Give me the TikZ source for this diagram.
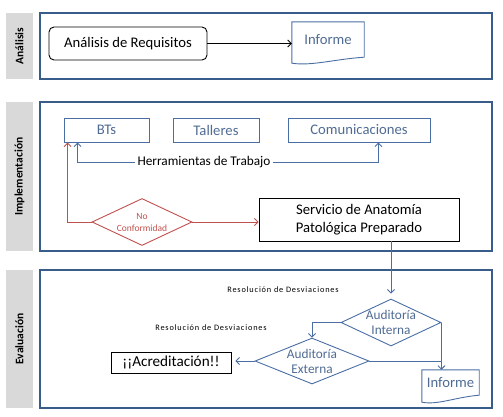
\documentclass[tikz,border=0pt]{standalone}
\usepackage{fontspec}
\setmainfont{Carlito}
\newfontfamily\spacedfont[LetterSpace=10]{Carlito}
\usetikzlibrary{shapes.geometric,arrows.meta}
\definecolor{frameC}{HTML}{385D8A}
\definecolor{lineC}{HTML}{4A6EA4}
\definecolor{txtC}{HTML}{4F6B93}
\definecolor{redC}{HTML}{C0504D}
\definecolor{grayC}{HTML}{D9D9D9}
\tikzset{
  band/.style={draw=frameC, line width=2pt, inner sep=0pt},
  lblbox/.style={fill=grayC, rotate=90, inner sep=0pt, font=\bfseries\fontsize{11.5}{13}\selectfont},
  bigfont/.style={font=\fontsize{14.67}{17.6}\selectfont},
  midfont/.style={font=\fontsize{13.3}{15}\selectfont},
  blubox/.style={draw=lineC, line width=0.9pt, text=txtC, inner sep=0pt, bigfont},
  blkbox/.style={draw=black, line width=0.9pt, inner sep=0pt, bigfont},
  docn/.style={inner sep=0pt, text=txtC, bigfont},
  docline/.style={draw=lineC, line width=0.9pt},
  dia/.style={diamond, draw=lineC, line width=0.9pt, inner sep=0pt},
  rdia/.style={diamond, draw=redC, line width=0.9pt, inner sep=0pt},
  barb/.style={-{Straight Barb[length=3.5pt,width=7pt]}},
  bline/.style={draw=lineC, line width=0.9pt},
  rline/.style={draw=redC, line width=0.9pt},
  kline/.style={draw=black, line width=0.8pt},
  smalltxt/.style={inner sep=0pt, font=\spacedfont\fontsize{8.3}{10}\selectfont},
}
\begin{document}
\begin{tikzpicture}[x=1pt,y=-1pt]
\useasboundingbox (0,0) rectangle (503,416);
% bands
\node[lblbox, minimum width=66pt, minimum height=27pt] (lA) at (19.5,46) {Análisis};
\node[band, minimum width=452pt, minimum height=66pt] (fA) at (266,46) {};
\node[lblbox, minimum width=149pt, minimum height=27pt] (lI) at (19.5,176.5) {Implementación};
\node[band, minimum width=452pt, minimum height=149pt] (fI) at (266,176.5) {};
\node[lblbox, minimum width=138pt, minimum height=27pt] (lE) at (19.5,339) {Evaluación};
\node[band, minimum width=452pt, minimum height=138pt] (fE) at (266,339) {};

% Analisis
\node[blkbox, rounded corners=5pt, minimum width=158pt, minimum height=33pt] (areq) at (128,43.5) {Análisis de Requisitos};
\node[docn, minimum width=72pt, minimum height=35pt] (inf1) at (328,39.5) {Informe};
\draw[docline] (inf1.south west) -- (inf1.north west) -- (inf1.north east) -- (inf1.south east)
  .. controls +(-30,2) and +(20,3) .. ([yshift=-6pt]inf1.south west) -- cycle;
\draw[kline, barb] (areq.east) -- (inf1.west |- areq.east);

% Implementacion
\node[blubox, minimum width=85pt, minimum height=24pt] (bts) at (106.5,130) {BTs};
\node[blubox, minimum width=86pt, minimum height=24pt] (tal) at (216,130) {Talleres};
\node[blubox, minimum width=142pt, minimum height=24pt] (com) at (359,130) {Comunicaciones};
\node[inner sep=2pt, midfont] (herr) at (204,162) {Herramientas de Trabajo};
\draw[bline, barb] (herr.west) -| ([xshift=14pt]bts.south west);
\draw[bline, barb] (herr.east) -| ([xshift=-52pt]com.south east);
\node[rdia, minimum width=100pt, minimum height=47pt,
  label={[text=redC, align=center, font=\fontsize{9.5}{12}\selectfont]center:No\\Conformidad}] (nc) at (142,222) {};
\node[blkbox, align=center, minimum width=200pt, minimum height=43pt] (srv) at (359,219.5) {Servicio de Anatomía\\Patológica Preparado};
\draw[rline, barb] (nc.west) -| ([xshift=4pt]bts.south west);
\draw[rline, barb] (nc.east) -- (nc.east -| srv.west);

% Evaluacion
\node[dia, minimum width=100pt, minimum height=47pt,
  label={[text=txtC, align=center, midfont]center:Auditoría\\Interna}] (ai) at (391,322.5) {};
\node[dia, minimum width=114pt, minimum height=46pt,
  label={[text=txtC, align=center, midfont]center:Auditoría\\Externa}] (ae) at (312,361) {};
\node[blkbox, minimum width=120pt, minimum height=21pt, font=\fontsize{15.2}{18}\selectfont] (acr) at (171,362.5) {¡¡Acreditación!!};
\node[docn, minimum width=57pt, minimum height=25pt] (inf2) at (450.5,382.5) {Informe};
\draw[docline] (inf2.south west) -- (inf2.north west) -- (inf2.north east) -- (inf2.south east)
  .. controls +(-24,2) and +(16,3) .. ([yshift=-7pt]inf2.south west) -- cycle;
\node[smalltxt] (rd1) at (283,290) {Resolución de Desviaciones};
\node[smalltxt] (rd2) at (211,328) {Resolución de Desviaciones};
\draw[bline, barb, shorten >=5pt] (ai.north |- srv.south) -- (ai.north);
\draw[bline, barb] (ai.west) -| (ae.north);
\draw[bline, barb] (ai.east) -- (ai.east |- inf2.north);
\draw[bline] (ae.east) -- (ae.east -| ai.east);
\draw[bline, barb, shorten >=4pt] (ae.west) -- (acr.east |- ae.west);
\end{tikzpicture}
\end{document}
